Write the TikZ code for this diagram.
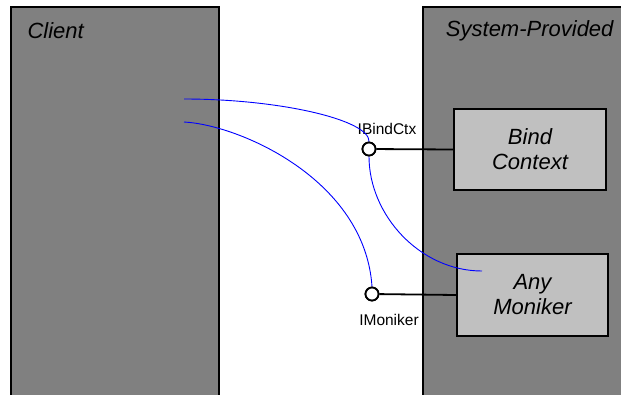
\documentclass[tikz,border=0pt]{standalone}
\usepackage{fontspec}
\setmainfont{Liberation Sans}
\definecolor{paneldark}{HTML}{808080}
\definecolor{panellight}{HTML}{C0C0C0}
\tikzset{
	panel/.style={draw, line width=1.8pt, fill=paneldark, inner sep=0pt},
	objbox/.style={draw, line width=1.8pt, fill=panellight, align=center, font=\fontsize{22}{25}\selectfont\itshape},
	plug/.style={draw, circle, line width=1.8pt, fill=white, minimum size=13pt, inner sep=0pt},
	wire/.style={blue, line width=0.9pt},
	ifname/.style={font=\fontsize{15.5}{18}\selectfont, inner sep=0pt}
}
\begin{document}
\begin{tikzpicture}[x=1pt, y=-1pt]
		\clip (0,0) rectangle (621,394);
		\fill[white] (0,0) rectangle (621,394);
		\node (client)[panel, minimum width=208pt, minimum height=410pt] at (115,212) {};
		\node (sys)[panel, minimum width=210pt, minimum height=410pt] at (528,212) {};
		\node (clienttext)[anchor=west, font=\fontsize{22}{25}\selectfont\itshape] at (24,31) {Client};
		\node (systext)[anchor=east, font=\fontsize{22}{25}\selectfont\itshape] at (617,31) {System-Provided};
		\node (bind)[objbox, minimum width=152pt, minimum height=81pt] at (530,149.5) {Bind\\Context};
		\node (moniker)[objbox, minimum width=151pt, minimum height=82pt] at (532.5,295) {Any\\Moniker};
		\node (c1)[plug] at (369,149) {};
		\node (c2)[plug] at (372,294) {};
		\node (c1lbl)[ifname] at (387,129) {IBindCtx};
		\node (c2lbl)[ifname] at (389,320) {IMoniker};
		\coordinate (p1) at (184,99);
		\coordinate (p2) at (184,122);
		\coordinate (p3) at (482,271);
		\draw[line width=1.8pt] (c1) -- (bind.west);
		\draw[line width=1.8pt] (c2) -- (moniker.west);
		\draw[wire] (p1) .. controls (280,99) and (370,120) .. (c1.north);
		\draw[wire] (c1.south) .. controls (369,215) and (420,271) .. (p3);
		\draw[wire] (p2) .. controls (240,125) and (365,180) .. (c2.north);
		\node[plug] at (c1) {};
		\node[plug] at (c2) {};
	\end{tikzpicture}
\end{document}
